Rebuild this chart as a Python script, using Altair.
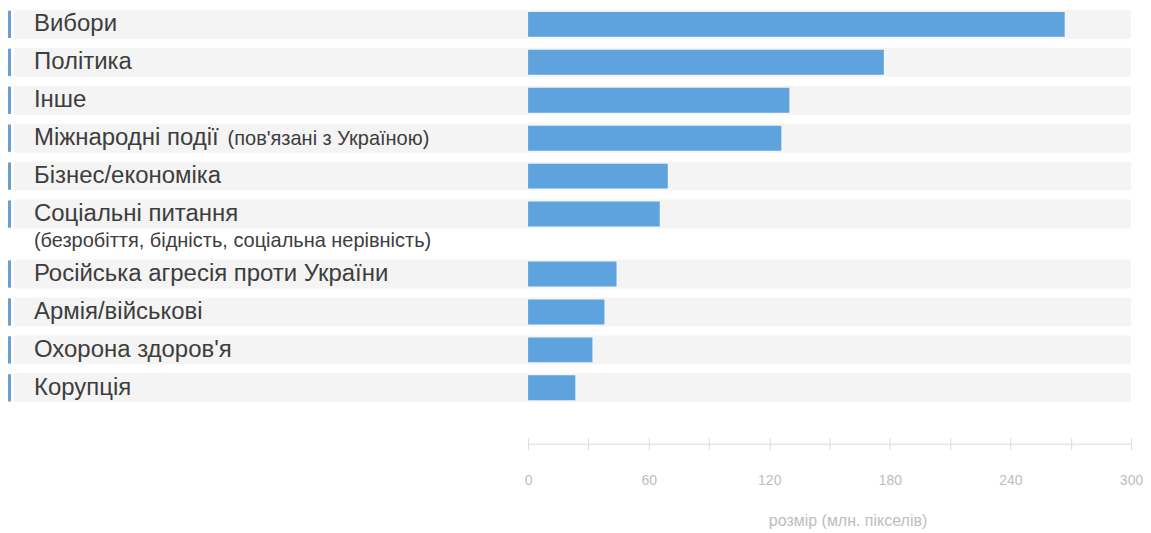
import altair as alt
import pandas as pd

# ---- data ----
categories = [
    "Вибори",
    "Політика",
    "Інше",
    "Міжнародні події",
    "Бізнес/економіка",
    "Соціальні питання",
    "Російська агресія проти України",
    "Армія/військові",
    "Охорона здоров'я",
    "Корупція",
]
inline_notes = ["", "", "", "(пов'язані з Україною)", "", "", "", "", "", ""]
below_notes = ["", "", "", "", "", "(безробіття, бідність, соціальна нерівність)", "", "", "", ""]
values = [267, 177, 130, 126, 69.5, 65.5, 44, 38, 32, 23.5]
tick_values = [0, 30, 60, 90, 120, 150, 180, 210, 240, 270, 300]
label_every = 60
x_max = 300
axis_title = "розмір (млн. пікселів)"

# ---- row positions: one row per category, extra room for a second label line ----
pos = []
p = 0.0
for note in below_notes:
    pos.append(p)
    p += 1.0 + (0.58 if note else 0.0)

df = pd.DataFrame({
    "category": categories,
    "inline_note": inline_notes,
    "below_note": below_notes,
    "value": values,
    "pos": pos,
})

FONT = "Liberation Sans"
TEXT_X = -495
TEXT_COLOR = "#3d3d3d"
yscale = alt.Scale(domain=[-0.42, 10.0], reverse=True, nice=False, zero=False, padding=0)
xscale = alt.Scale(domain=[0, x_max], nice=False, padding=0)

base = alt.Chart(df)

# grey row bands (full width, including label area); carries the upper half of the ticks
bands = base.mark_bar(orient="horizontal", height=29, color="#f4f4f4").encode(
    x=alt.XDatum(x_max, type="quantitative", scale=xscale,
                 axis=alt.Axis(orient="bottom", values=tick_values, offset=34,
                               tickSize=6, tickColor="#dcdcdc", domain=False,
                               labels=False, title=None, grid=False)),
    x2=alt.value(-515),
    y=alt.Y("pos:Q", scale=yscale, axis=None),
)

# small blue marker at the left of each row
markers = base.transform_calculate(
    top="datum.pos - 0.36", bot="datum.pos + 0.36"
).mark_bar(color="#6aa0cf").encode(
    x=alt.value(-521),
    x2=alt.value(-518),
    y=alt.Y("top:Q", scale=yscale, axis=None),
    y2="bot:Q",
)

# data bars
bars = base.mark_bar(orient="horizontal", height=25, color="#5ea2de").encode(
    x=alt.X("value:Q", scale=xscale,
            axis=alt.Axis(orient="bottom", values=tick_values,
                          labelExpr=f"datum.value % {label_every} === 0 ? datum.label : ''",
                          offset=40, tickSize=6, tickColor="#dcdcdc",
                          domainColor="#dcdcdc", labelColor="#bdbdbd",
                          labelFontSize=14, labelFont=FONT, labelPadding=24,
                          labelFlush=False, grid=False,
                          title=axis_title, titleFont=FONT, titleFontSize=16,
                          titleFontWeight="normal", titleColor="#bdbdbd",
                          titlePadding=24.5, titleX=320, titleAlign="center")),
    x2=alt.datum(0),
    y=alt.Y("pos:Q", scale=yscale, axis=None),
    tooltip=["category", "value"],
)

labels = base.mark_text(align="left", baseline="middle", fontSize=24,
                        font=FONT, color=TEXT_COLOR).encode(
    x=alt.value(TEXT_X),
    y=alt.Y("pos:Q", scale=yscale, axis=None),
    text="category:N",
)

inline = base.transform_filter("datum.inline_note != ''").mark_text(
    align="left", baseline="middle", fontSize=20, font=FONT, color=TEXT_COLOR,
    dx=194, dy=1).encode(
    x=alt.value(TEXT_X),
    y=alt.Y("pos:Q", scale=yscale, axis=None),
    text="inline_note:N",
)

below = base.transform_filter("datum.below_note != ''").mark_text(
    align="left", baseline="middle", fontSize=20, font=FONT, color=TEXT_COLOR,
    dy=27).encode(
    x=alt.value(TEXT_X),
    y=alt.Y("pos:Q", scale=yscale, axis=None),
    text="below_note:N",
)

chart = alt.layer(bands, markers, bars, labels, inline, below).resolve_scale(
    x="shared"
).resolve_axis(x="independent").properties(
    width=604, height=396,
    padding={"left": 0, "top": 0, "right": 0, "bottom": 0},
).configure(background="white").configure_view(strokeWidth=0, stroke="transparent")

chart.save("out.html", embed_options={"renderer": "svg", "actions": False})
